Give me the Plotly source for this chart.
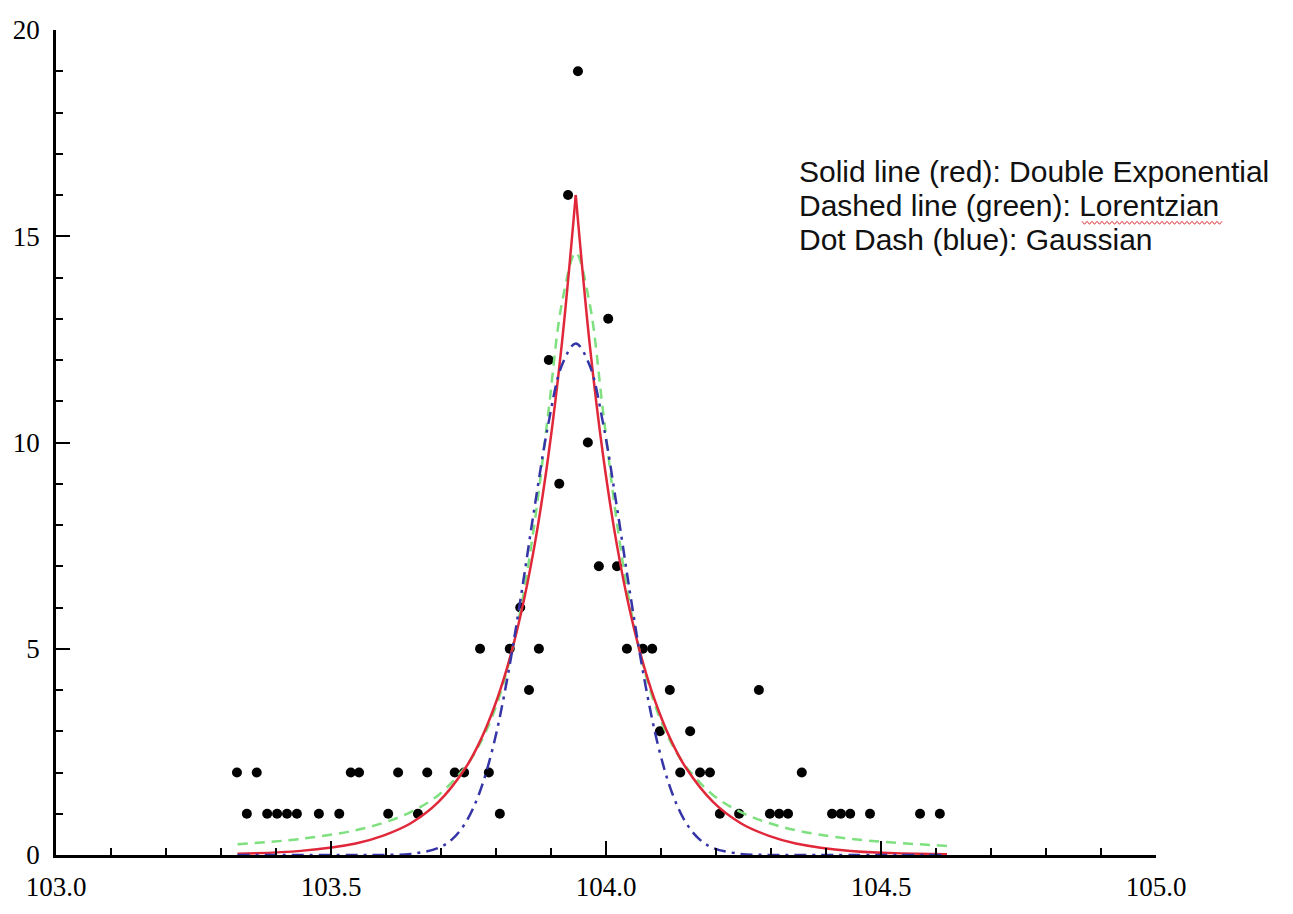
import plotly.graph_objects as go

# ---- measured data (counts per bin) ----
x_pts = [103.329, 103.347, 103.365, 103.384, 103.402, 103.420, 103.438, 103.478, 103.515,
         103.536, 103.551, 103.604, 103.622, 103.658, 103.675, 103.725, 103.742, 103.771,
         103.787, 103.807, 103.825, 103.844, 103.860, 103.878, 103.896, 103.915, 103.931,
         103.949, 103.967, 103.987, 104.004, 104.020, 104.038, 104.067, 104.084, 104.098,
         104.116, 104.135, 104.153, 104.171, 104.189, 104.207, 104.242, 104.278, 104.298,
         104.315, 104.331, 104.356, 104.411, 104.427, 104.444, 104.480, 104.571, 104.607]
y_pts = [2, 1, 2, 1, 1, 1, 1, 1, 1,
         2, 2, 1, 2, 1, 2, 2, 2, 5,
         2, 1, 5, 6, 4, 5, 12, 9, 16,
         19, 10, 7, 13, 7, 5, 5, 5, 3,
         4, 2, 3, 2, 2, 1, 1, 4, 1,
         1, 1, 2, 1, 1, 1, 1, 1, 1]

# ---- fitted curves ----
red_x = [103.33, 103.445, 103.545, 103.595, 103.645, 103.695, 103.745, 103.77, 103.795,
         103.82, 103.845, 103.87, 103.895, 103.92, 103.945, 103.97, 103.995, 104.02,
         104.045, 104.07, 104.095, 104.12, 104.145, 104.195, 104.245, 104.295, 104.345,
         104.445, 104.62]
red_y = [0.03, 0.10, 0.28, 0.47, 0.77, 1.28, 2.12, 2.73, 3.52,
         4.53, 5.83, 7.50, 9.66, 12.43, 16.0, 12.43, 9.66, 7.50,
         5.83, 4.53, 3.52, 2.73, 2.12, 1.28, 0.77, 0.47, 0.28,
         0.10, 0.02]

green_x = [103.33, 103.445, 103.545, 103.595, 103.645, 103.695, 103.745, 103.77, 103.795,
           103.82, 103.845, 103.87, 103.895, 103.92, 103.945, 103.97, 103.995, 104.02,
           104.045, 104.07, 104.095, 104.12, 104.145, 104.195, 104.245, 104.295, 104.345,
           104.445, 104.62]
green_y = [0.26, 0.39, 0.60, 0.78, 1.04, 1.45, 2.15, 2.68, 3.42,
           4.47, 5.96, 8.04, 10.71, 13.39, 14.6, 13.39, 10.71, 8.04,
           5.96, 4.47, 3.42, 2.68, 2.15, 1.45, 1.04, 0.78, 0.60,
           0.39, 0.22]

blue_x = [103.33, 103.545, 103.595, 103.645, 103.695, 103.72, 103.745, 103.77, 103.795,
          103.82, 103.845, 103.87, 103.895, 103.92, 103.945, 103.97, 103.995, 104.02,
          104.045, 104.07, 104.095, 104.12, 104.145, 104.17, 104.195, 104.245, 104.295,
          104.345, 104.62]
blue_y = [0.0, 0.0, 0.003, 0.026, 0.17, 0.38, 0.79, 1.51, 2.64,
          4.24, 6.24, 8.42, 10.44, 11.88, 12.4, 11.88, 10.44, 8.42,
          6.24, 4.24, 2.64, 1.51, 0.79, 0.38, 0.17, 0.026, 0.003,
          0.0, 0.0]

x_ticks = [103.0, 103.5, 104.0, 104.5, 105.0]
x_tick_labels = ["103.0", "103.5", "104.0", "104.5", "105.0"]
y_ticks = [0, 5, 10, 15, 20]
y_tick_labels = ["0", "5", "10", "15", "20"]

legend_lines = ["Solid line (red): Double Exponential",
                "Dashed line (green): Lorentzian",
                "Dot Dash (blue): Gaussian"]

W, H = 1293, 914
L, R, T, B = 56, 137, 30, 56

def px2paper(px, py):
    return (px - L) / (W - L - R), (H - B - py) / (H - T - B)

fig = go.Figure()
fig.add_trace(go.Scatter(x=x_pts, y=y_pts, mode="markers",
                         marker=dict(color="black", size=10), cliponaxis=False))
fig.add_trace(go.Scatter(x=green_x, y=green_y, mode="lines", line_shape="spline",
                         line=dict(color="#7ee07e", width=2.5, dash="10px,7px")))
# double exponential: smooth flanks with a sharp cusp at the peak
ipk = red_y.index(max(red_y))
for xs, ys in ((red_x[:ipk + 1], red_y[:ipk + 1]), (red_x[ipk:], red_y[ipk:])):
    fig.add_trace(go.Scatter(x=xs, y=ys, mode="lines", line_shape="spline",
                             line=dict(color="#e0283a", width=2.5)))
fig.add_trace(go.Scatter(x=blue_x, y=blue_y, mode="lines", line_shape="spline",
                         line=dict(color="#3535a8", width=2.5, dash="12px,6px,3px,6px")))

tickfont = dict(family="Liberation Serif", size=27, color="black")
fig.update_xaxes(range=[103, 105], tickvals=x_ticks, ticktext=x_tick_labels,
                 showline=True, linecolor="black", linewidth=2.5, mirror=False,
                 ticks="inside", ticklen=14, tickwidth=2, tickcolor="black",
                 minor=dict(dtick=0.1, tick0=103, ticks="inside", ticklen=7,
                            tickwidth=2, tickcolor="black", showgrid=False),
                 showgrid=False, zeroline=False, tickfont=tickfont,
                 ticklabelstandoff=6)
fig.update_yaxes(range=[0, 20], tickvals=y_ticks, ticktext=y_tick_labels,
                 showline=True, linecolor="black", linewidth=2.5,
                 ticks="inside", ticklen=14, tickwidth=2, tickcolor="black",
                 minor=dict(dtick=1, tick0=0, ticks="inside", ticklen=7,
                            tickwidth=2, tickcolor="black", showgrid=False),
                 showgrid=False, zeroline=False, tickfont=tickfont,
                 ticklabelstandoff=8)

line_py = [172, 206, 240]
for txt, py in zip(legend_lines, line_py):
    ax, ay = px2paper(797, py)
    fig.add_annotation(x=ax, y=ay, xref="paper", yref="paper", text=txt,
                       showarrow=False, xanchor="left", yanchor="middle",
                       font=dict(family="Liberation Sans", size=30, color="#111111"))

# red wavy spell-check underline beneath "Lorentzian"
pts = []
px = 1082.0
k = 0
while px <= 1222:
    pts.append(px2paper(px, 222 if k % 2 == 0 else 225))
    px += 2.5
    k += 1
path = "M " + " L ".join(f"{a:.5f},{b:.5f}" for a, b in pts)
fig.add_shape(type="path", path=path, xref="paper", yref="paper",
              line=dict(color="#e03030", width=1))

fig.update_layout(width=W, height=H, margin=dict(l=L, r=R, t=T, b=B),
                  paper_bgcolor="white", plot_bgcolor="white", showlegend=False)

fig.write_html("out.html")
